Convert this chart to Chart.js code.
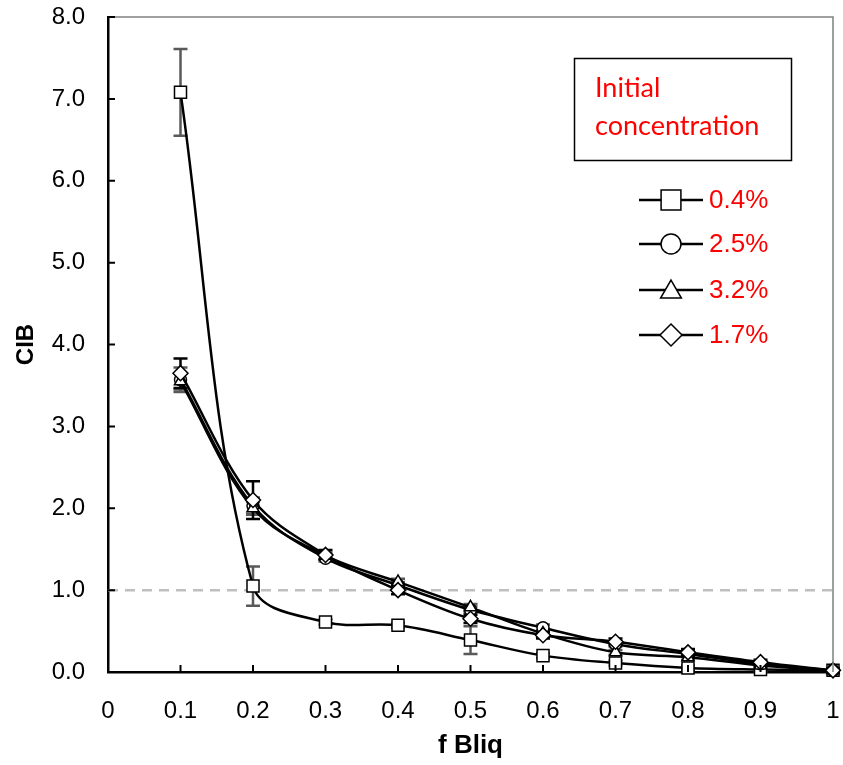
<!DOCTYPE html>
<html>
<head>
<meta charset="utf-8">
<script src="https://cdn.jsdelivr.net/npm/chart.js@4.4.1/dist/chart.umd.min.js"></script>
<style>
html,body{margin:0;padding:0;background:#fff;}
#wrap{width:843px;height:765px;position:relative;}
</style>
</head>
<body>
<div id="wrap"><canvas id="c" width="843" height="765"></canvas></div>
<script>
// ---- data ----
const fBliq = [0.1, 0.2, 0.3, 0.4, 0.5, 0.6, 0.7, 0.8, 0.9, 1.0];
const cib04 = [7.08, 1.05, 0.61, 0.57, 0.39, 0.20, 0.11, 0.05, 0.03, 0.02];
const cib25 = [3.57, 2.03, 1.39, 1.06, 0.76, 0.54, 0.34, 0.22, 0.10, 0.02];
const cib32 = [3.55, 2.00, 1.42, 1.10, 0.79, 0.47, 0.24, 0.18, 0.08, 0.02];
const cib17 = [3.65, 2.10, 1.43, 1.00, 0.65, 0.45, 0.37, 0.24, 0.12, 0.02];
const err04 = [0.53, 0.24, 0.03, 0.03, 0.17, 0.03, 0.03, 0.03, 0.02, 0.02];
const err25 = [0.15, 0.10, 0.04, 0.04, 0.04, 0.04, 0.03, 0.03, 0.02, 0.02];
const err32 = [0.10, 0.08, 0.04, 0.04, 0.04, 0.04, 0.03, 0.03, 0.02, 0.02];
const err17 = [0.18, 0.23, 0.06, 0.05, 0.05, 0.04, 0.04, 0.04, 0.03, 0.02];
const seriesLabels = ['0.4%', '2.5%', '3.2%', '1.7%'];
const legendTitle = ['Initial', 'concentration'];
const xTickLabels = ['0', '0.1', '0.2', '0.3', '0.4', '0.5', '0.6', '0.7', '0.8', '0.9', '1'];
const yTickLabels = ['0.0', '1.0', '2.0', '3.0', '4.0', '5.0', '6.0', '7.0', '8.0'];
const refLineY = 1.0;

const pts = arr => fBliq.map((x, i) => ({x: x, y: arr[i]}));

const common = {
  borderColor: '#000', borderWidth: 2.5, backgroundColor: '#fff',
  pointBackgroundColor: '#fff', pointBorderColor: '#000', pointBorderWidth: 1.5,
  tension: 0.35, fill: false, showLine: true
};

const errInfo = [
  {data: cib04, err: err04, color: '#595959'},
  {data: cib25, err: err25, color: '#595959'},
  {data: cib32, err: err32, color: '#595959'},
  {data: cib17, err: err17, color: '#000000'}
];

const errorBars = {
  id: 'errorBars',
  beforeDatasetsDraw(chart) {
    const {ctx, scales: {x, y}} = chart;
    ctx.save();
    errInfo.forEach(s => {
      ctx.strokeStyle = s.color;
      ctx.lineWidth = 2.5;
      fBliq.forEach((fx, i) => {
        const px = x.getPixelForValue(fx);
        const yt = y.getPixelForValue(s.data[i] + s.err[i]);
        const yb = y.getPixelForValue(Math.max(0, s.data[i] - s.err[i]));
        ctx.beginPath();
        ctx.moveTo(px, yt); ctx.lineTo(px, yb);
        ctx.moveTo(px - 7, yt); ctx.lineTo(px + 7, yt);
        ctx.moveTo(px - 7, yb); ctx.lineTo(px + 7, yb);
        ctx.stroke();
      });
    });
    ctx.restore();
  }
};

const frame = {
  id: 'frame',
  afterDraw(chart) {
    const {ctx, chartArea: a, scales: {x, y}} = chart;
    ctx.save();
    // top and right gray borders
    ctx.strokeStyle = '#808080';
    ctx.lineWidth = 1.5;
    ctx.beginPath();
    ctx.moveTo(a.left, a.top); ctx.lineTo(a.right, a.top); ctx.lineTo(a.right, a.bottom);
    ctx.stroke();
    // inward ticks
    ctx.strokeStyle = '#000';
    ctx.lineWidth = 2;
    ctx.beginPath();
    for (let i = 1; i < xTickLabels.length - 1; i++) {
      const px = x.getPixelForValue(i / 10);
      ctx.moveTo(px, a.bottom); ctx.lineTo(px, a.bottom - 7);
    }
    for (let j = 1; j < yTickLabels.length; j++) {
      const py = y.getPixelForValue(j);
      ctx.moveTo(a.left, py); ctx.lineTo(a.left + 7, py);
    }
    ctx.stroke();

    // legend title box
    ctx.strokeStyle = '#000';
    ctx.lineWidth = 1.5;
    ctx.strokeRect(574.5, 58.5, 217, 102);
    ctx.fillStyle = '#ff0000';
    ctx.font = '27px Lato';
    ctx.textBaseline = 'alphabetic';
    ctx.textAlign = 'left';
    ctx.fillText(legendTitle[0], 595, 97);
    ctx.fillText(legendTitle[1], 595, 135);

    // legend entries
    const styles = ['rect', 'circle', 'triangle', 'rectRot'];
    const ys = [200, 244, 290, 335];
    styles.forEach((st, k) => {
      const cy = ys[k];
      ctx.strokeStyle = '#000';
      ctx.lineWidth = 2.5;
      ctx.beginPath();
      ctx.moveTo(639, cy); ctx.lineTo(703, cy);
      ctx.stroke();
      ctx.fillStyle = '#fff';
      ctx.lineWidth = 1.5;
      const r = st === 'rect' ? 14 : (st === 'circle' ? 10 : (st === 'triangle' ? 12 : 11));
      Chart.helpers.drawPoint(ctx, {pointStyle: st, radius: r, borderWidth: 1.5, rotation: 0}, 671, st === 'triangle' ? cy + 2 : cy);
      ctx.fillStyle = '#ff0000';
      ctx.font = '26px "Liberation Sans", Arial';
      ctx.textBaseline = 'middle';
      ctx.fillText(seriesLabels[k], 709, cy + 1);
    });
    ctx.restore();
  }
};

new Chart(document.getElementById('c'), {
  type: 'scatter',
  data: {
    datasets: [
      Object.assign({}, common, {label: seriesLabels[3], data: pts(cib17), pointStyle: 'rectRot', pointRadius: 7.5, order: 1}),
      Object.assign({}, common, {label: seriesLabels[2], data: pts(cib32), pointStyle: 'triangle', pointRadius: 7, order: 2}),
      Object.assign({}, common, {label: seriesLabels[1], data: pts(cib25), pointStyle: 'circle', pointRadius: 6, order: 3}),
      Object.assign({}, common, {label: seriesLabels[0], data: pts(cib04), pointStyle: 'rect', pointRadius: 8.5, order: 4}),
      {label: 'ref', data: [{x: 0, y: refLineY}, {x: 1, y: refLineY}], showLine: true, borderColor: '#bfbfbf',
       borderWidth: 2.5, borderDash: [10, 7], pointRadius: 0, order: 10, fill: false}
    ]
  },
  options: {
    responsive: false,
    animation: false,
    clip: false,
    layout: {padding: {top: 17, right: 7, left: 0, bottom: 0}},
    plugins: {legend: {display: false}, tooltip: {enabled: false}},
    scales: {
      x: {
        type: 'linear', min: 0, max: 1,
        afterFit: s => { s.height = 93; s.paddingLeft = 0; s.paddingRight = 0; },
        afterBuildTicks: s => { s.ticks = xTickLabels.map((t, i) => ({value: i / 10})); },
        ticks: {callback: (v, i) => xTickLabels[i], color: '#000', padding: 25, maxRotation: 0, autoSkip: false,
                font: {family: '"Liberation Sans", Arial', size: 24}},
        grid: {display: true, drawOnChartArea: false, drawTicks: false},
        border: {color: '#000', width: 2.5},
        title: {display: true, text: 'f Bliq', color: '#000', padding: {top: 0, bottom: 4},
                font: {family: '"Liberation Sans", Arial', size: 26, weight: 'bold'}}
      },
      y: {
        type: 'linear', min: 0, max: 8,
        afterFit: s => { s.width = 108; s.paddingTop = 0; s.paddingBottom = 0; },
        afterBuildTicks: s => { s.ticks = yTickLabels.map((t, i) => ({value: i})); },
        ticks: {callback: (v, i) => yTickLabels[i], color: '#000', padding: 23,
                font: {family: '"Liberation Sans", Arial', size: 24}},
        grid: {display: true, drawOnChartArea: false, drawTicks: false},
        border: {color: '#000', width: 2.5},
        title: {display: true, text: 'CIB', color: '#000', padding: {top: 12, bottom: 0},
                font: {family: '"Liberation Sans", Arial', size: 24, weight: 'bold'}}
      }
    }
  },
  plugins: [errorBars, frame]
});
</script>
</body>
</html>
